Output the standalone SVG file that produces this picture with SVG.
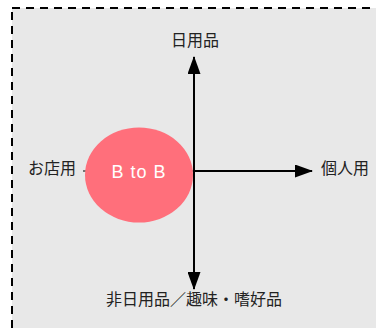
<svg xmlns="http://www.w3.org/2000/svg" width="376" height="328" viewBox="0 0 376 328">
<style>
.lbl{font-family:"Noto Sans CJK JP","Liberation Sans",sans-serif;font-size:16px;fill:#222}
.ax{stroke:#000;stroke-width:2;fill:none}
</style>
<defs>
<marker id="ah" markerWidth="18" markerHeight="13" refX="17" refY="6.5" orient="auto" markerUnits="userSpaceOnUse">
<path d="M0,0 L18,6.5 L0,13 Z" fill="#000"/>
</marker>
</defs>
<rect x="12" y="8" width="380" height="340" fill="#e8e8e8" stroke="#000" stroke-width="2" stroke-dasharray="8,6"/>
<g id="connectors">
<line class="ax" x1="194" y1="171" x2="194" y2="57" marker-end="url(#ah)"/>
<line class="ax" x1="194" y1="171" x2="194" y2="289" marker-end="url(#ah)"/>
<line class="ax" x1="194" y1="171" x2="312" y2="171" marker-end="url(#ah)"/>
<line x1="194" y1="171" x2="83" y2="171" stroke="#000" stroke-width="1"/>
</g>
<g id="btob">
<ellipse cx="139" cy="175" rx="54" ry="47.5" fill="#ff6f7b"/>
<text x="139" y="178" text-anchor="middle" font-family="'Liberation Sans',Arial,sans-serif" font-size="18" letter-spacing="1" fill="#fff">B to B</text>
</g>
<g id="top"><text class="lbl" x="195" y="46" text-anchor="middle">日用品</text></g>
<g id="right"><text class="lbl" x="321" y="174">個人用</text></g>
<g id="left"><text class="lbl" x="28" y="174">お店用</text></g>
<g id="bottom"><text class="lbl" x="194" y="305" text-anchor="middle">非日用品／趣味・嗜好品</text></g>
</svg>
